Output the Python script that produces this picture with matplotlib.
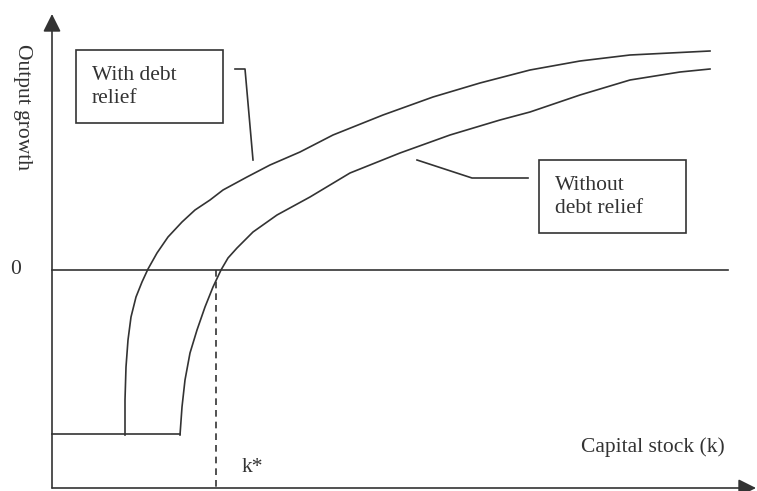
import matplotlib
matplotlib.use("Agg")
import matplotlib.pyplot as plt
from matplotlib.patches import Rectangle

# Curves: capital stock (k) vs output growth (g), zero line at g=0
k_with = [73, 73, 74, 76, 79, 84, 90, 96, 105, 116, 130, 143, 158, 171, 195, 218, 248, 281,
          331, 381, 428, 478, 528, 578, 658]
g_with = [-165, -130, -97, -70, -47, -27, -12, 1, 17, 33, 48, 60, 70, 80, 93, 105, 118, 135,
          155, 173, 187, 200, 209, 215, 219]

k_without = [128, 130, 133, 138, 145, 153, 161, 169, 176, 185, 201, 225, 258, 298, 348, 398,
             448, 478, 528, 578, 628, 658]
g_without = [-165, -137, -110, -83, -60, -37, -17, 0, 12, 22, 38, 55, 73, 97, 117, 135,
             150, 158, 175, 190, 198, 201]

floor_g = -164
k_star = 164
zero_end = 676
x_axis_end = 704
y_axis_bottom = -218
y_axis_top = 256

col = "#333333"
lw = 1.2
plt.rcParams['font.family'] = ['Liberation Serif', 'DejaVu Serif']
fs = 15.5

fig = plt.figure(figsize=(7.57, 4.91), dpi=100)
ax = fig.add_axes([0, 0, 1, 1])
ax.set_xlim(-52, 705)
ax.set_ylim(-221, 270)
ax.axis('off')

# axes with arrow heads
arrow = dict(arrowstyle='-|>,head_length=0.6,head_width=0.3', color=col, lw=lw,
             mutation_scale=18, shrinkA=0, shrinkB=0)
ax.annotate('', xy=(0, y_axis_top), xytext=(0, y_axis_bottom), arrowprops=arrow)
ax.annotate('', xy=(x_axis_end, y_axis_bottom), xytext=(0, y_axis_bottom), arrowprops=arrow)

# zero line and floor
ax.plot([0, zero_end], [0, 0], color=col, lw=lw)
ax.plot([0, k_without[0]], [floor_g, floor_g], color=col, lw=lw)

# curves
ax.plot(k_with, g_with, color=col, lw=lw, solid_joinstyle='round')
ax.plot(k_without, g_without, color=col, lw=lw, solid_joinstyle='round')

# k* dashed
ax.plot([k_star, k_star], [0, y_axis_bottom], color=col, lw=lw, ls=(0, (4, 3)))

# leader lines
ax.plot([183, 193, 201], [201, 201, 110], color=col, lw=lw)
ax.plot([365, 420, 476], [110, 92, 92], color=col, lw=lw)

# label boxes
ax.add_patch(Rectangle((24, 147), 147, 73, fill=False, ec=col, lw=lw))
ax.add_patch(Rectangle((487, 37), 147, 73, fill=False, ec=col, lw=lw))
ax.text(40, 183, "With debt\nrelief", fontsize=fs, color=col, va='center', ha='left', linespacing=1.3)
ax.text(503, 73, "Without\ndebt relief", fontsize=fs, color=col, va='center', ha='left', linespacing=1.3)

# axis texts
ax.text(-30, 163, "Output growth", fontsize=fs, color=col, rotation=-90, va='center', ha='center')
ax.text(-36, 0, "0", fontsize=fs, color=col, va='center', ha='center')
ax.text(673, -177, "Capital stock (k)", fontsize=fs, color=col, va='center', ha='right')
ax.text(190, -198, "k*", fontsize=fs, color=col, va='center', ha='left')

fig.savefig("out.png", dpi=100)
